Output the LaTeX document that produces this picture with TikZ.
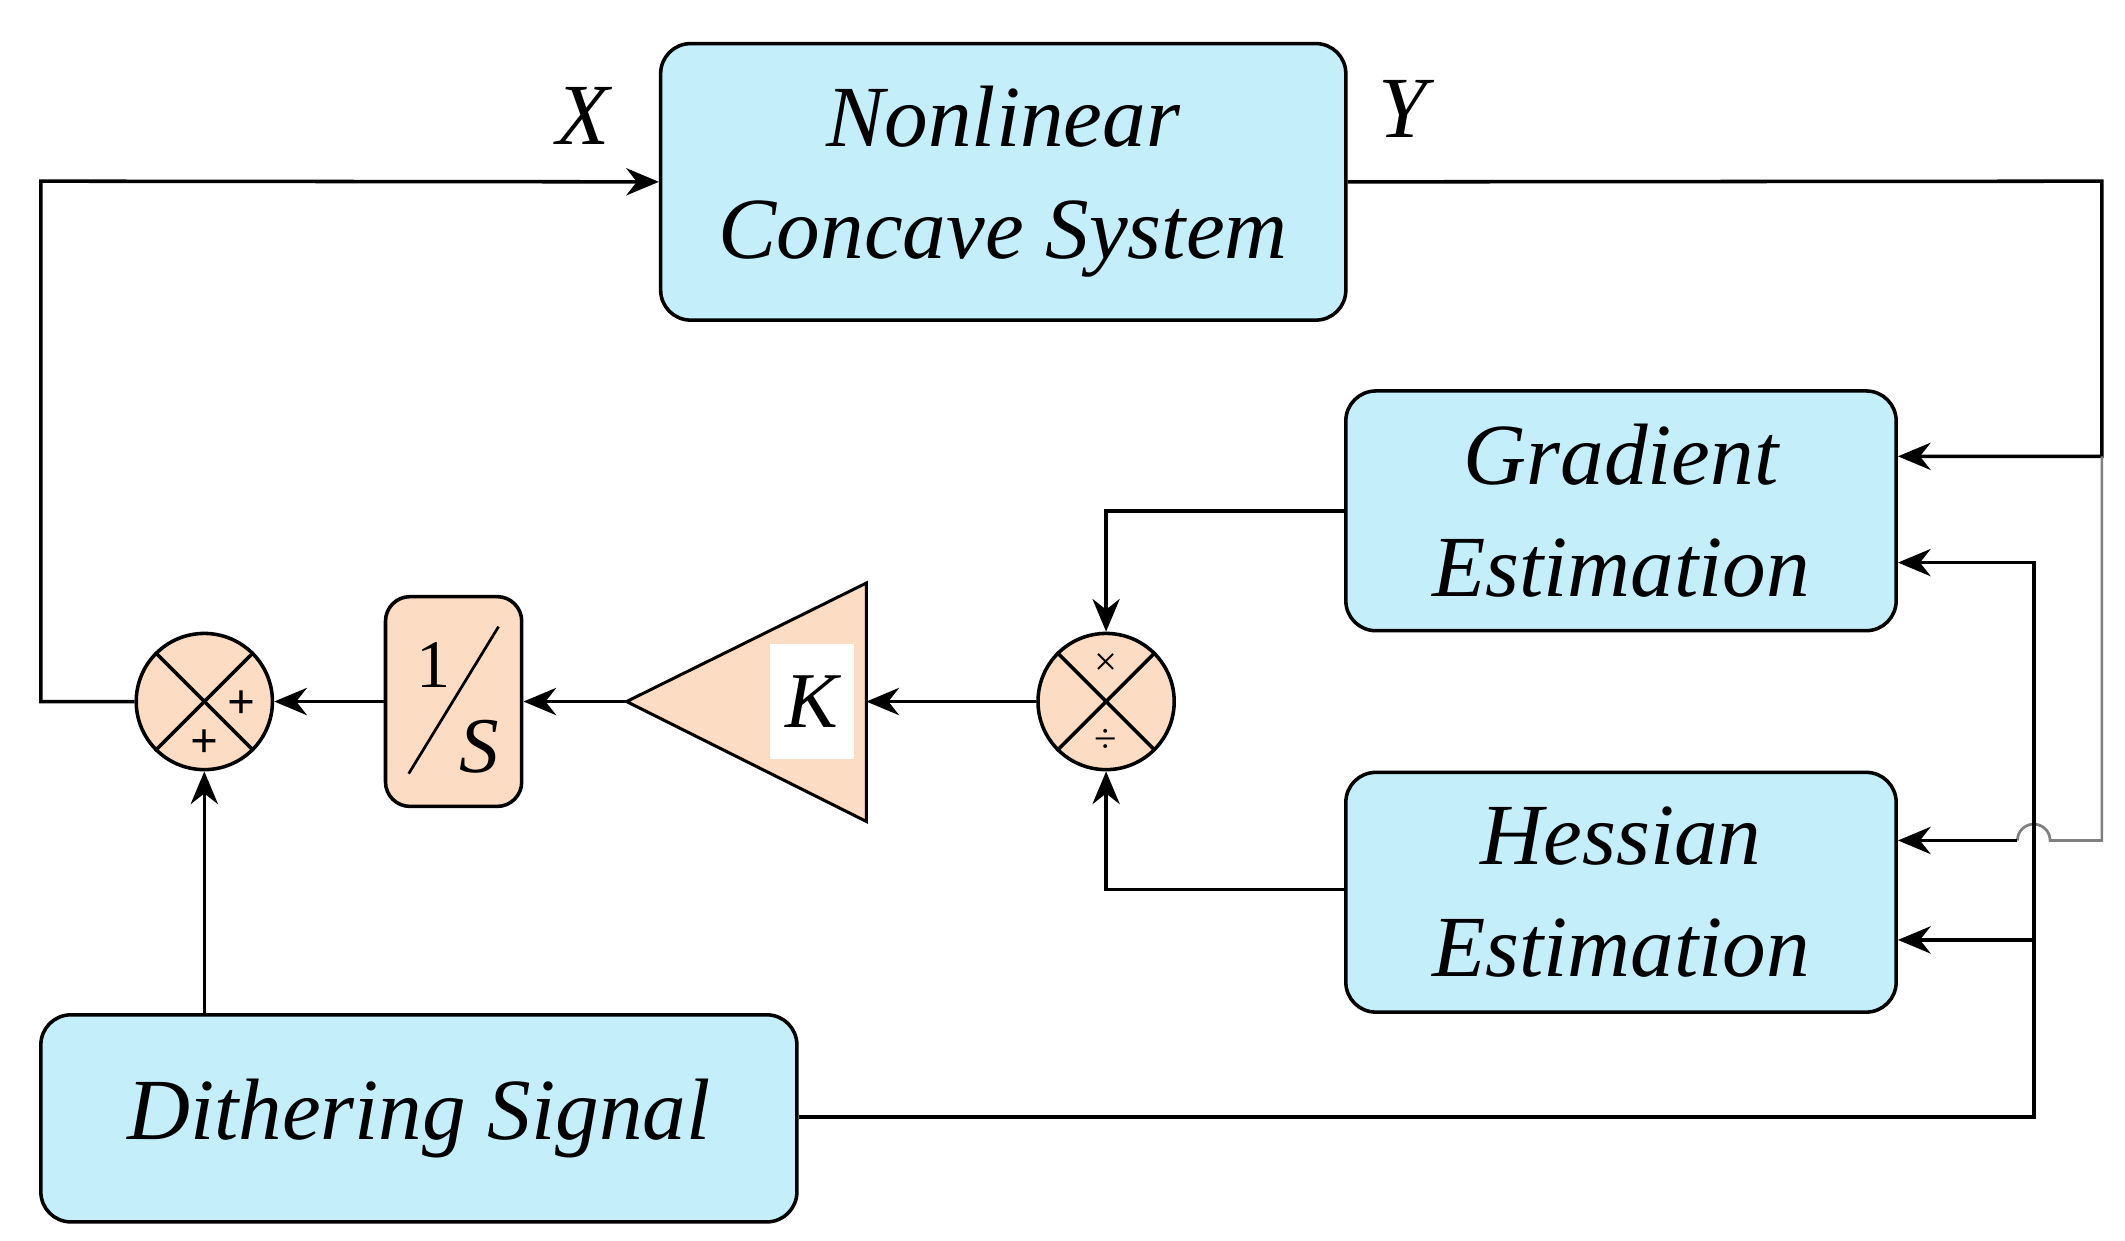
\documentclass[tikz,border=0pt]{standalone}
\usepackage{fontspec}
\setmainfont{Liberation Serif}
\usetikzlibrary{arrows.meta,calc}
\definecolor{bluef}{HTML}{C4EEFA}
\definecolor{peach}{HTML}{FCDCC2}
\begin{document}
\begin{tikzpicture}[x=1pt,y=-1pt,line width=2.6pt,
  blk/.style={draw,fill=bluef,rounded corners=22pt,inner sep=0pt,align=center,font=\fontsize{64}{82}\selectfont\itshape},
  arr/.style={-{Stealth[length=24pt,width=20pt]}},
  circ/.style={draw,fill=peach,circle,minimum size=100pt,inner sep=0pt}]
\useasboundingbox (0,0) rectangle (1560,911);
\node[blk,minimum width=503pt,minimum height=203pt] (nl) at (736.5,133.5) {Nonlinear\\Concave System};
\node[blk,minimum width=404pt,minimum height=176pt] (gr) at (1190,375) {Gradient\\Estimation};
\node[blk,minimum width=404pt,minimum height=176pt] (he) at (1190,655) {Hessian\\Estimation};
\node[blk,minimum width=555pt,minimum height=152pt] (di) at (307.5,821) {Dithering Signal};
\node[font=\fontsize{64}{70}\selectfont\itshape] (X) at (428,85) {X};
\node[font=\fontsize{64}{70}\selectfont\itshape] (Y) at (1030,80) {Y};
% sum circle
\node[circ] (sum) at (150,515) {};
\draw (sum.north west)--(sum.south east) (sum.north east)--(sum.south west);
\node[font=\fontsize{36}{36}\selectfont\bfseries] at (177,517) {+};
\node[font=\fontsize{36}{36}\selectfont\bfseries] at (150,546) {+};
% div circle
\node[circ] (dv) at (812,515) {};
\draw (dv.north west)--(dv.south east) (dv.north east)--(dv.south west);
\node[font=\fontsize{30}{30}\selectfont] at (812,488) {×};
\node[font=\fontsize{30}{30}\selectfont] at (812,544) {÷};
% gain triangle
\draw[fill=peach,line width=2.2pt] (460,515) coordinate (kt) -- (636,428) -- (636,603) -- cycle;
\coordinate (kr) at (636,515);
\node[fill=white,minimum width=62pt,minimum height=85pt,inner sep=0pt,font=\fontsize{58}{60}\selectfont\itshape] (K) at (596,515) {K};
% integrator
\node[draw,fill=peach,rounded corners=18pt,minimum width=100pt,minimum height=154pt] (int) at (333,515) {};
\draw[line width=2pt] (300,568)--(366,460);
\node[font=\fontsize{50}{50}\selectfont] at (318,488) {1};
\node[font=\fontsize{58}{60}\selectfont\itshape] at (352,548) {S};
% connectors
\draw[arr] (sum.west) -- (30,515) -- (30,133) -- (nl.west);
\draw[arr] (nl.east) -- (1543,133) -- (1543,335) -- (gr.east|-0,335);
\draw[gray,line width=2pt] (1543,335) -- (1543,617) -- (1505,617) arc (0:180:12pt) -- (1481,617);
\draw[arr] (1481,617) -- (he.east|-0,617);
\draw[arr] (di.east|-0,820) -- (1493,820) -- (1493,413) -- (gr.east|-0,413);
\draw[arr] (1493,690) -- (he.east|-0,690);
\draw[arr] (gr.west|-0,375) -- (812,375) -- (dv.north);
\draw[arr] (he.west|-0,653) -- (812,653) -- (dv.south);
\draw[arr] (dv.west) -- (kr);
\draw[arr] (kt) -- (int.east);
\draw[arr] (int.west) -- (sum.east);
\draw[arr] (di.north-|sum) -- (sum.south);
\end{tikzpicture}
\end{document}
